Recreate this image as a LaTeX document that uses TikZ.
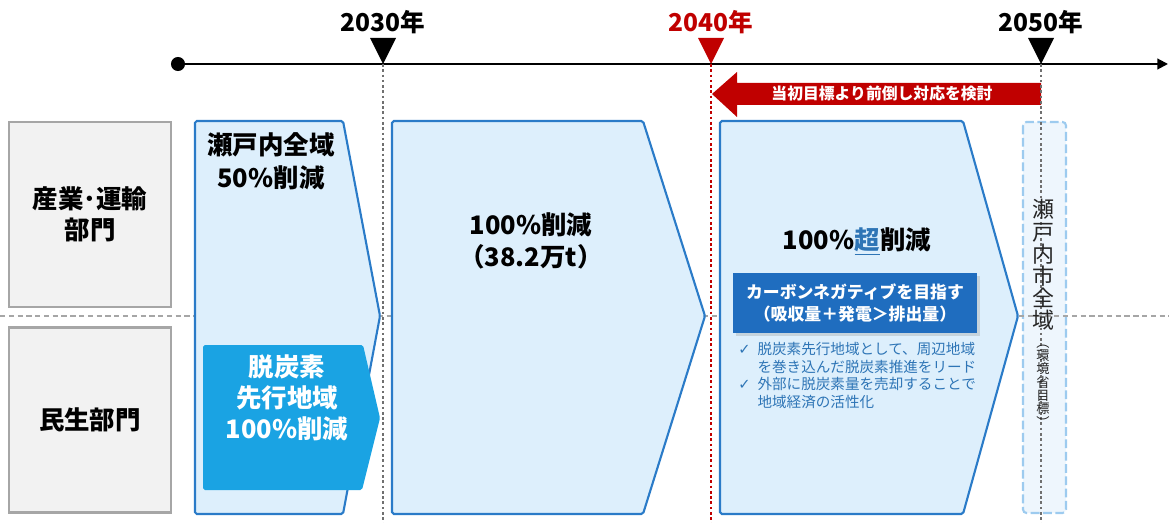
\documentclass[tikz,border=0pt]{standalone}
\usepackage{fontspec}
\setmainfont{Noto Sans CJK JP}
\newfontfamily\checkfont{DejaVu Sans}
\usetikzlibrary{positioning,arrows.meta,shadows}
\definecolor{stageblue}{HTML}{2A7BC8}
\definecolor{stagefill}{HTML}{DDEFFC}
\definecolor{pilotcyan}{HTML}{1AA3E3}
\definecolor{goalblue}{HTML}{1F6DBF}
\definecolor{noteblue}{HTML}{2E75B6}
\definecolor{deadline}{HTML}{C00000}
\definecolor{dotgray}{HTML}{707070}
\definecolor{sectorgray}{HTML}{A6A6A6}
\definecolor{sectorfill}{HTML}{F2F2F2}
\definecolor{targetline}{HTML}{9DCBEF}
\definecolor{targetfill}{HTML}{EEF6FD}
\tikzset{sector/.style={draw=sectorgray,fill=sectorfill,line width=1.2pt,minimum width=3.24cm,minimum height=3.7cm,align=center,font=\fontsize{14.5}{17.5}\selectfont\bfseries}}
\tikzset{stage/.style={draw=stageblue,fill=stagefill,line width=1.2pt,rounded corners=1pt}}
\tikzset{stagetext/.style={align=center,font=\fontsize{14.5}{18.5}\selectfont\bfseries}}
\tikzset{year/.style={font=\fontsize{14}{16}\selectfont\bfseries}}
\tikzset{milestone/.style={dash pattern=on 1.5pt off 1.5pt,line width=1.6pt}}
\tikzset{goalbox/.style={fill=goalblue,text=white,align=center,minimum width=4.88cm,minimum height=1.2cm,font=\fontsize{9.6}{13}\selectfont\bfseries,drop shadow={opacity=0.25,shadow xshift=1.5pt,shadow yshift=-1.5pt}}}
\tikzset{merit/.style={text=noteblue,inner sep=0pt,font=\fontsize{8.3}{10}\selectfont}}
\tikzset{vertical/.style={align=center,text=black!85,inner sep=0pt}}
\newcommand{\tick}{{\checkfont\bfseries ✓}}

\begin{document}
\begin{tikzpicture}[x=0.02cm,y=-0.02cm,node distance=5pt]
\useasboundingbox (0,0) rectangle (1169,523);
\draw[targetline,fill=targetfill,line width=1.2pt,dash pattern=on 5pt off 2pt,rounded corners=2pt] (1023,122) rectangle (1066,513);
\draw[sectorgray,line width=0.8pt,dash pattern=on 3pt off 2pt] (0,316) -- (1169,316);
\node[sector](industry) at (90,214.5) {産業･運輸\\部門};
\node[sector](household) at (90,420) {民生部門};
\draw[stage] (195,121) -- (343,121) -- (380,316) -- (343,514) -- (195,514) -- cycle;
\fill[pilotcyan,rounded corners=1pt] (203,345) -- (363,345) -- (380,418) -- (362,490) -- (203,490) -- cycle;
\draw[stage] (392,121) -- (643,121) -- (705,316) -- (643,514) -- (392,514) -- cycle;
\draw[stage] (720,121) -- (963,121) -- (1018,316) -- (963,514) -- (720,514) -- cycle;
\fill[deadline] (1041,83) -- (737,83) -- (737,72) -- (712,94) -- (737,117) -- (737,105) -- (1041,105) -- cycle;
\node[circle,fill,inner sep=0pt,minimum size=8pt](origin) at (178,64) {};
\coordinate (tend) at (1168,64);
\draw[line width=1.1pt,-{Triangle[length=6pt,width=6pt]}] (origin.center) -- (tend);
\foreach \x/\col/\lc/\yr in {383/black/dotgray/2030,711/deadline/deadline/2040,1041/black/dotgray/2050}{
  \coordinate (t\yr) at (\x,64);
  \coordinate (b\yr) at (\x,523);
  \draw[milestone,\lc] (t\yr) -- (b\yr);
  \fill[\col] (\x-13,38) -- (\x+13,38) -- (t\yr) -- cycle;
  \node[year,text=\col](y\yr) at (\x,22) {\yr{}年};
}
\node[text=white,font=\fontsize{9}{11}\selectfont\bfseries](advance) at (882,94) {当初目標より前倒し対応を検討};
\node[stagetext](wide) at (271,161) {瀬戸内全域\\50\%削減};
\node[stagetext,text=white,font=\fontsize{14.5}{17.5}\selectfont\bfseries](pilot) at (287,398) {脱炭素\\先行地域\\100\%削減};
\node[stagetext](full) at (531,241) {100\%削減\\（38.2万t）};
\node[stagetext](beyond) at (857,242) {100\%{\color{noteblue}\underline{超}}削減};
\node[goalbox](goal) at (855,303) {カーボンネガティブを目指す\\（吸収量＋発電＞排出量）};
\node[merit](note)[below=5pt of goal.south west,anchor=north west,xshift=3pt] {\begin{tabular}{@{}l@{\hspace{4pt}}l@{}}
\tick & 脱炭素先行地域として、周辺地域\\
 & を巻き込んだ脱炭素推進をリード\\
\tick & 外部に脱炭素量を売却することで\\
 & 地域経済の活性化
\end{tabular}};
\node[vertical,font=\fontsize{12.5}{12.6}\selectfont](city) at (1043,265) {瀬\\戸\\内\\市\\全\\域};
\node[vertical,font=\fontsize{7.5}{7.6}\selectfont](ministry) at (1043,386) {︵\\環\\境\\省\\目\\標\\︶};
\end{tikzpicture}
\end{document}
